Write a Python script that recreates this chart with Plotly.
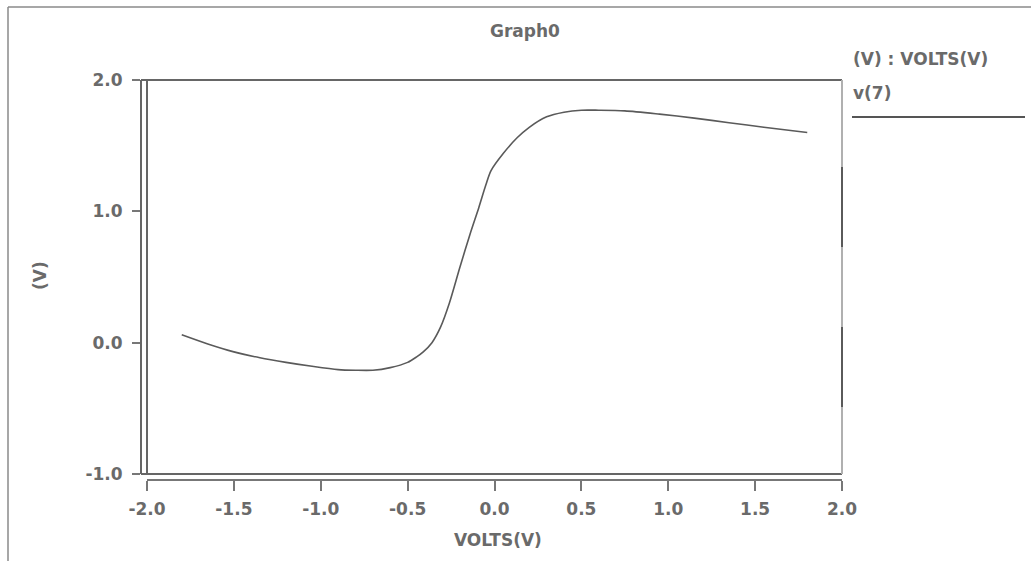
import plotly.graph_objects as go

# v(7) transfer curve: output voltage against swept input VOLTS(V)
volts_in = [-1.8, -1.65, -1.5, -1.35, -1.2, -1.05, -0.9, -0.8, -0.7, -0.6,
            -0.5, -0.45, -0.41, -0.36, -0.31, -0.26, -0.2, -0.14, -0.09, -0.05,
            -0.02, 0.05, 0.13, 0.2, 0.3, 0.4, 0.5, 0.6, 0.75, 0.95,
            1.15, 1.35, 1.55, 1.8]
v7 = [0.06, -0.01, -0.07, -0.115, -0.15, -0.18, -0.205, -0.21, -0.21, -0.19,
      -0.15, -0.11, -0.07, 0.0, 0.12, 0.30, 0.57, 0.83, 1.03, 1.2,
      1.31, 1.44, 1.56, 1.64, 1.72, 1.755, 1.77, 1.77, 1.765, 1.74,
      1.71, 1.675, 1.64, 1.60]

x_ticks = [-2.0, -1.5, -1.0, -0.5, 0.0, 0.5, 1.0, 1.5, 2.0]
y_ticks = [-1.0, 0.0, 1.0, 2.0]

W, H = 1031, 561
ML, MR, MT, MB = 141, 189, 80, 81
PW, PH = W - ML - MR, H - MT - MB
TXT = "#6a6a6a"
FONT = dict(family="DejaVu Sans", size=17, color=TXT, weight="bold")


def px(x):
    return (x - ML) / PW


def py(y):
    return (H - MB - y) / PH


fig = go.Figure()
fig.add_trace(go.Scatter(x=volts_in, y=v7, mode="lines",
                         line=dict(color="#5a5a5a", width=1.6, shape="spline",
                                   smoothing=0.8),
                         showlegend=False, hoverinfo="skip"))

shapes = []


def seg(x0, y0, x1, y1, color, width):
    shapes.append(dict(type="line", xref="paper", yref="paper",
                       x0=px(x0), y0=py(y0), x1=px(x1), y1=py(y1),
                       line=dict(color=color, width=width)))


# outer frame (left and top edges)
seg(8, 7, 8, 561, "#8a8a8a", 1.5)
seg(8, 7, 1031, 7, "#8a8a8a", 1.5)
# plot box: inner left line, top, bottom, right
seg(147, 80, 147, 474, "#666666", 2)
seg(141, 80, 842, 80, "#666666", 2)
seg(141, 474, 842, 474, "#666666", 2)
seg(842, 80, 842, 474, "#b0b0b0", 2)
seg(842, 167, 842, 247, "#5a5a5a", 2)
seg(842, 327, 842, 407, "#5a5a5a", 2)
# legend sample line
seg(852, 117, 1025, 117, "#555555", 2)

annotations = []


def label(text, x, y, xanchor="center", angle=0):
    annotations.append(dict(text=text, x=px(x), y=py(y), xref="paper", yref="paper",
                            xanchor=xanchor, yanchor="middle", showarrow=False,
                            textangle=angle, font=FONT))


label("Graph0", 525, 31)
label("(V) : VOLTS(V)", 851, 59, xanchor="left")
label("v(7)", 851, 93, xanchor="left")
label("VOLTS(V)", 498, 540)
label("(V)", 40, 276, angle=-90)

fig.update_layout(
    width=W, height=H,
    margin=dict(l=ML, r=MR, t=MT, b=MB, pad=0),
    paper_bgcolor="white", plot_bgcolor="white",
    font=FONT,
    shapes=shapes,
    annotations=annotations,
    xaxis=dict(domain=[6 / PW, 1], range=[-2, 2], anchor="free", position=0,
               tickvals=x_ticks, ticktext=[f"{v:.1f}" for v in x_ticks],
               ticks="outside", ticklen=10, tickwidth=2, tickcolor="#777777",
               showline=True, linecolor="#777777", linewidth=2,
               showgrid=False, zeroline=False, ticklabelstandoff=4,
               tickfont=FONT),
    yaxis=dict(domain=[6 / PH, 1], range=[-1, 2], anchor="free", position=0,
               tickvals=y_ticks, ticktext=[f"{v:.1f}" for v in y_ticks],
               ticks="outside", ticklen=8, tickwidth=2, tickcolor="#777777",
               showline=True, linecolor="#666666", linewidth=2,
               showgrid=False, zeroline=False, ticklabelstandoff=6,
               tickfont=FONT),
)

fig.write_html("out.html")
